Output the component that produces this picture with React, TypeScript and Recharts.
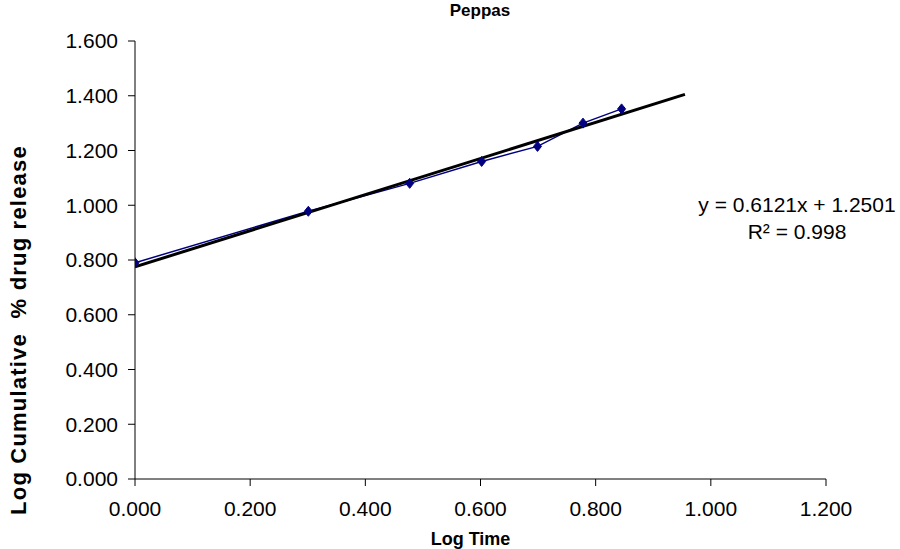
import { ComposedChart, Line, XAxis, YAxis } from 'recharts';

// Log time (x) and log cumulative % drug release (y)
const logTime = [0, 0.301, 0.477, 0.602, 0.699, 0.778, 0.845];
const logRelease = [0.79, 0.978, 1.08, 1.16, 1.215, 1.3, 1.352];

// end points of the linear trendline as drawn
const trendX = [0, 0.955];
const trendY = [0.775, 1.405];

const xTicks = [0, 0.2, 0.4, 0.6, 0.8, 1.0, 1.2];
const yTicks = [0, 0.2, 0.4, 0.6, 0.8, 1.0, 1.2, 1.4, 1.6];

const releaseData = logTime.map((x, i) => ({ x, y: logRelease[i] }));
const trendData = trendX.map((x, i) => ({ x, y: trendY[i] }));

const font = 'Liberation Sans, Arial, sans-serif';

const Diamond = (props: any) => {
  const { cx, cy } = props;
  if (cx == null || cy == null) return null;
  const r = 5;
  return (
    <path
      d={`M${cx},${cy - r} L${cx + r - 1},${cy} L${cx},${cy + r} L${cx - r + 1},${cy} Z`}
      fill="#000080"
      stroke="#000080"
    />
  );
};

export default function App() {
  return (
    <div style={{ position: 'absolute', left: 0, top: 0, width: 900, height: 549, background: '#fff', fontFamily: font }}>
      <div style={{ position: 'absolute', left: 420, top: 1, width: 120, textAlign: 'center', fontSize: 17, fontWeight: 'bold' }}>
        Peppas
      </div>
      <div
        style={{
          position: 'absolute',
          left: 19,
          top: 330,
          transform: 'translate(-50%, -50%) rotate(-90deg)',
          whiteSpace: 'pre',
          fontSize: 22,
          fontWeight: 'bold',
          letterSpacing: 1.2,
        }}
      >
        {'Log Cumulative  % drug release'}
      </div>
      <ComposedChart
        width={900}
        height={549}
        margin={{ top: 41, right: 74, bottom: 0, left: 35 }}
      >
        <XAxis
          type="number"
          dataKey="x"
          domain={[0, 1.2]}
          ticks={xTicks}
          allowDataOverflow
          height={70}
          tickFormatter={(v: number) => v.toFixed(3)}
          stroke="#000"
          tickSize={7}
          tick={{ fill: '#000', fontSize: 21, fontFamily: font }}
          tickMargin={15}
          label={{ value: 'Log Time', position: 'insideBottom', offset: 4, dx: -10, fill: '#000', fontSize: 18, fontWeight: 'bold', fontFamily: font }}
        />
        <YAxis
          type="number"
          domain={[0, 1.6]}
          ticks={yTicks}
          width={100}
          tickFormatter={(v: number) => v.toFixed(3)}
          stroke="#000"
          tickSize={7}
          tick={{ fill: '#000', fontSize: 21, fontFamily: font }}
          tickMargin={10}
        />
        <Line
          data={releaseData}
          dataKey="y"
          stroke="#000080"
          strokeWidth={1.5}
          dot={<Diamond />}
          isAnimationActive={false}
        />
        <Line
          data={trendData}
          dataKey="y"
          stroke="#000"
          strokeWidth={3}
          dot={false}
          isAnimationActive={false}
        />
      </ComposedChart>
      <div style={{ position: 'absolute', left: 687, top: 191, width: 220, textAlign: 'center', fontSize: 21, lineHeight: '27px' }}>
        y = 0.6121x + 1.2501
        <br />
        R² = 0.998
      </div>
    </div>
  );
}
